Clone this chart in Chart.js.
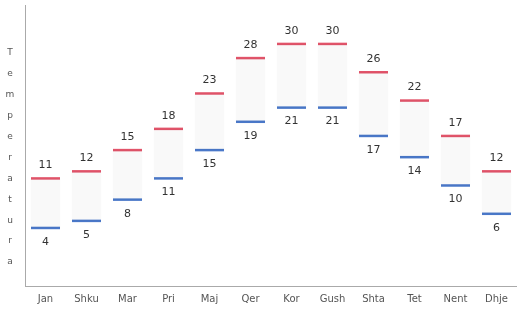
<!DOCTYPE html>
<html><head><meta charset="utf-8">
<script src="https://cdn.jsdelivr.net/npm/chart.js@4/dist/chart.umd.min.js"></script>
<style>html,body{margin:0;padding:0;background:#fff;overflow:hidden;}#wrap{width:517px;height:311px;}canvas{display:block;}</style>
</head><body><div id="wrap"><canvas id="c"></canvas></div>
<script>
const months = ['Jan','Shku','Mar','Pri','Maj','Qer','Kor','Gush','Shta','Tet','Nent','Dhje'];
const maxTemps = [11,12,15,18,23,28,30,30,26,22,17,12];
const minTemps = [4,5,8,11,15,19,21,21,17,14,10,6];
const yTitle = 'Temperatura';

const labelPlugin = {
  id:'labels',
  afterDatasetsDraw(chart){
    const ctx = chart.ctx;
    ctx.save();
    ctx.font = '11px "DejaVu Sans", sans-serif';
    ctx.fillStyle = '#333';
    ctx.textAlign = 'center';
    ctx.textBaseline = 'middle';
    const mx = chart.getDatasetMeta(1), mn = chart.getDatasetMeta(2);
    mx.data.forEach((p,i)=>ctx.fillText(String(maxTemps[i]), p.x, p.y-13));
    mn.data.forEach((p,i)=>ctx.fillText(String(minTemps[i]), p.x, p.y+14));
    ctx.font = '9px "DejaVu Sans", sans-serif';
    ctx.fillStyle = '#555';
    yTitle.split('').forEach((ch,i)=>ctx.fillText(ch, 10, 53 + i*20.9));
    ctx.restore();
  }
};

new Chart(document.getElementById('c'), {
  data:{
    labels: months,
    datasets:[
      {type:'bar', data: months.map((m,i)=>[minTemps[i],maxTemps[i]]), backgroundColor:'rgba(0,0,0,0.025)', borderWidth:0, barPercentage:0.72, categoryPercentage:1},
      {type:'line', data: maxTemps, showLine:false, pointStyle:'line', pointRadius:14.5, pointHoverRadius:14.5, borderColor:'#e2546a', borderWidth:2.5},
      {type:'line', data: minTemps, showLine:false, pointStyle:'line', pointRadius:14.5, pointHoverRadius:14.5, borderColor:'#4a78c9', borderWidth:2.5}
    ]
  },
  options:{
    responsive:true, maintainAspectRatio:false, animation:false,
    layout:{autoPadding:false, padding:{top:5,right:0,left:0,bottom:0}},
    plugins:{legend:{display:false}, tooltip:{enabled:false}},
    scales:{
      x:{offset:true, grid:{display:false}, border:{display:true,color:'#aaa',width:1},
         ticks:{color:'#555', font:{size:10,family:'"DejaVu Sans", sans-serif'}, padding:-1, maxRotation:0},
         afterFit(s){s.height=25;}},
      y:{min:-4.2, max:35.5, grid:{display:false}, border:{display:true,color:'#aaa',width:1},
         ticks:{display:false}, afterFit(s){s.width=25;}}
    }
  },
  plugins:[labelPlugin]
});
</script></body></html>
